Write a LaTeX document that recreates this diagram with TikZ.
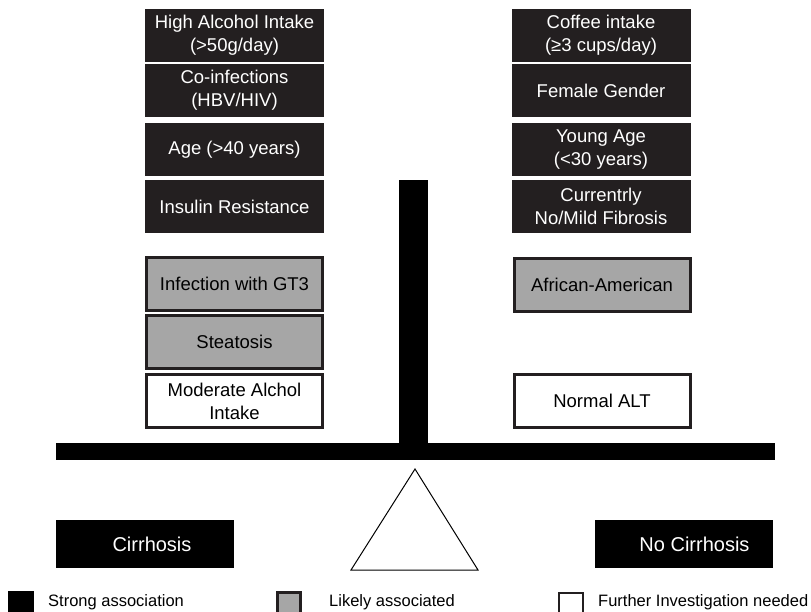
\documentclass[tikz,border=0pt]{standalone}
\usepackage{fontspec}
\setmainfont{Liberation Sans}
\definecolor{boxblack}{HTML}{231F20}
\definecolor{boxgrey}{HTML}{A6A6A6}
\tikzset{
  strongbox/.style={rectangle, fill=boxblack, text=white, inner sep=0pt,
    minimum width=179pt, minimum height=53pt, align=center,
    font=\fontsize{18.5}{23}\selectfont},
  likelybox/.style={rectangle, draw=boxblack, line width=3pt, fill=boxgrey,
    inner sep=0pt, minimum width=176pt, minimum height=53pt, align=center,
    font=\fontsize{18.5}{23}\selectfont},
  furtherbox/.style={likelybox, fill=white},
  outcome/.style={rectangle, fill=black, text=white, inner sep=0pt,
    minimum width=178pt, minimum height=48pt,
    font=\fontsize{20}{24}\selectfont},
  legtext/.style={anchor=base west, inner sep=0pt,
    font=\fontsize{16.5}{20}\selectfont}
}
\begin{document}
\begin{tikzpicture}[x=1pt,y=-1pt]
\useasboundingbox (0,0) rectangle (811,612);
% left pan: cirrhosis
\node[strongbox] (hai) at (234.5,35.5) {High Alcohol Intake\\(>50g/day)};
\node[strongbox] (coinf) at (234.5,90.5) {Co-infections\\(HBV/HIV)};
\node[strongbox] (age) at (234.5,149.5) {Age (>40 years)};
\node[strongbox] (ir) at (234.5,206.5) {Insulin Resistance};
\node[likelybox] (gt3) at (234.5,284) {Infection with GT3};
\node[likelybox] (steat) at (234.5,341.5) {Steatosis};
\node[furtherbox] (modalc) at (234.5,401) {Moderate Alchol\\Intake};
% right pan: no cirrhosis
\node[strongbox] (coffee) at (601,35.5) {Coffee intake\\(≥3 cups/day)};
\node[strongbox] (female) at (601,90.5) {Female Gender};
\node[strongbox] (young) at (601,149.5) {Young Age\\(<30 years)};
\node[strongbox] (nofib) at (601,206.5) {Currentrly\\No/Mild Fibrosis};
\node[likelybox] (aa) at (602,285) {African-American};
\node[furtherbox] (alt) at (602,400.5) {Normal ALT};
% balance
\fill[black] (399,180) rectangle (428,443);
\fill[black] (56,443) rectangle (775,460);
\draw[line width=1pt] (351,570) -- (415,469) -- (478,570) -- cycle;
\node[outcome] (cirr) at (145,544) {\hspace*{14pt}Cirrhosis};
\node[outcome] (nocirr) at (683.5,544) {\hspace*{22pt}No Cirrhosis};
% legend
\node[rectangle, fill=black, inner sep=0pt, minimum width=26pt, minimum height=25pt] (legstrong) at (21,603.5) {};
\node[legtext] (legstrongtxt) at (48,606) {Strong association};
\node[rectangle, draw=boxblack, line width=3pt, fill=boxgrey, inner sep=0pt, minimum width=23pt, minimum height=23pt] (leglikely) at (289,604) {};
\node[legtext] (leglikelytxt) at (329,606) {Likely associated};
\node[rectangle, draw=boxblack, line width=2pt, fill=white, inner sep=0pt, minimum width=24pt, minimum height=23pt] (legfurther) at (571,604) {};
\node[legtext] (legfurthertxt) at (598,606) {Further Investigation needed};
\end{tikzpicture}
\end{document}
